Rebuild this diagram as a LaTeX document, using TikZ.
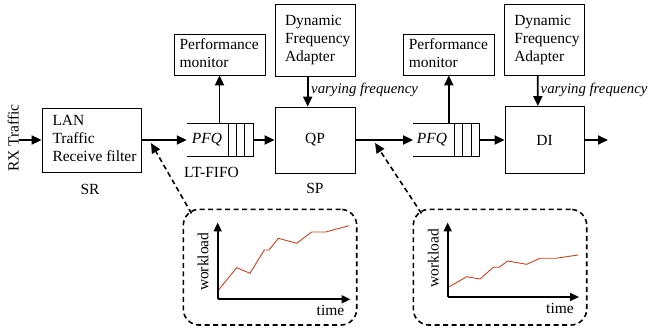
\documentclass[tikz,border=0pt]{standalone}
\usepackage{fontspec}
\setmainfont{Liberation Serif}
\usetikzlibrary{arrows.meta}
\definecolor{wlcolor}{RGB}{210,65,25}
% left-aligned lines in a box of fixed width (may overhang to the right)
\newcommand{\leftlines}[2]{\makebox[#1][l]{\begin{tabular}{@{}l@{}}#2\end{tabular}}}
\begin{document}
\begin{tikzpicture}[x=1pt,y=-1pt,
  font=\fontsize{15.5}{18}\selectfont,
  blk/.style={draw,line width=0.8pt,inner ysep=0pt},
  flow/.style={line width=1.8pt,-{Triangle[length=10pt,width=9pt]}},
  pointer/.style={line width=1.6pt,dash pattern=on 5pt off 3.5pt,-{Triangle[length=10pt,width=9pt]}},
  bubble/.style={draw,line width=1.6pt,dash pattern=on 5pt off 3.5pt,rounded corners=16pt,
                 minimum width=173.4pt,minimum height=115.7pt},
  axis/.style={line width=1.8pt,-{Triangle[length=9pt,width=8pt]}},
  wline/.style={wlcolor,line width=0.9pt},
  fifo/.style={minimum width=66pt,minimum height=32pt,inner sep=0pt},
  qline/.style={line width=0.8pt},
  vary/.style={anchor=west,inner sep=0pt,font=\fontsize{14.8}{18}\selectfont\itshape}
]
\useasboundingbox (0,0) rectangle (649,328);

% ---------- input stage ----------
\node[rotate=90,inner sep=0pt] (rx) at (13.3,138) {RX Traffic};
\node[blk,minimum width=99pt,minimum height=64pt,inner xsep=10.5pt]
  (sr) at (91.5,140) {\leftlines{78pt}{LAN\\Traffic\\Receive filter}};
\node (srlbl) at (90,189) {SR};
\draw[flow] (rx.south |- sr.west) -- (sr.west);

% ---------- first LT-FIFO ----------
\node[fifo] (fifoA) at (220,140) {};
\draw[qline] (fifoA.north west) -- (fifoA.north east) -- (fifoA.south east) -- (fifoA.south west);
\foreach \d in {8.33,16.67,25}
  \draw[qline] ([xshift=-\d pt]fifoA.north east) -- ([xshift=-\d pt]fifoA.south east);
\node (pfqA) at (207,140) {\itshape PFQ};
\node (ltlbl) at (211.5,172) {LT-FIFO};
\draw[flow] (sr.east) -- (fifoA.west);

\node[blk,minimum width=91pt,minimum height=41pt,inner xsep=5.5pt]
  (perfA) at (219.5,54.5) {\leftlines{80pt}{Performance\\monitor}};
\draw[flow] (perfA.south |- fifoA.north) -- (perfA.south);

% ---------- SP ----------
\node[blk,minimum width=80pt,minimum height=72pt,inner xsep=10pt]
  (dfaA) at (315,40) {\leftlines{60pt}{Dynamic\\Frequency\\Adapter}};
\node[blk,minimum width=80pt,minimum height=66pt] (qp) at (315,140) {QP};
\node (splbl) at (315,188) {SP};
\draw[flow] (fifoA.east) -- (qp.west);
\draw[flow] ([xshift=-7.3pt]dfaA.south) -- ([xshift=-7.3pt]qp.north);
\node[vary] (vfA) at (311,90) {varying frequency};

% ---------- second FIFO ----------
\node[fifo] (fifoB) at (446.3,140) {};
\draw[qline] (fifoB.north west) -- (fifoB.north east) -- (fifoB.south east) -- (fifoB.south west);
\foreach \d in {8.33,16.67,25}
  \draw[qline] ([xshift=-\d pt]fifoB.north east) -- ([xshift=-\d pt]fifoB.south east);
\node (pfqB) at (432,140) {\itshape PFQ};
\draw[flow] (qp.east) -- (fifoB.west);

\node[blk,minimum width=91pt,minimum height=41pt,inner xsep=5.5pt]
  (perfB) at (448.8,54.5) {\leftlines{80pt}{Performance\\monitor}};
\draw[flow] (perfB.south |- fifoB.north) -- (perfB.south);

% ---------- DI ----------
\node[blk,minimum width=80pt,minimum height=71pt,inner xsep=10pt]
  (dfaB) at (544.3,39.5) {\leftlines{60pt}{Dynamic\\Frequency\\Adapter}};
\node[blk,minimum width=79pt,minimum height=67pt] (di) at (544.5,140) {DI};
\draw[flow] (fifoB.east) -- (di.west);
\draw[flow] ([xshift=-6.6pt]dfaB.south) -- ([xshift=-6.6pt]di.north);
\node[vary] (vfB) at (540.5,90) {varying frequency};
\coordinate (out) at (608,140);
\draw[flow] (di.east) -- (out);

% ---------- workload call-outs ----------
\node[bubble] (callA) at (270,267.2) {};
\node[bubble] (callB) at (500,267.2) {};
\coordinate (fromA) at (191.5,213.5);
\coordinate (toA) at (151,143);
\coordinate (fromB) at (421.5,213.5);
\coordinate (toB) at (375,143);
\draw[pointer] (fromA) -- (toA);
\draw[pointer] (fromB) -- (toB);

% plot in the first call-out
\coordinate (oA) at (217.7,299.3);
\coordinate (yA) at (217.7,222.5);
\coordinate (xA) at (350.5,299.3);
\draw[wline] (217.7,291) -- (236.7,267.7) -- (250,273.3) -- (264.3,250) -- (269,250)
  -- (278.3,238.3) -- (296.7,243.3) -- (311.7,232) -- (325.7,232) -- (349,225.7);
\draw[axis] (oA) -- (yA);
\draw[axis] (oA) -- (xA);
\node[rotate=90] (wlA) at (203,261.7) {workload};
\node (tA) at (330.5,310.7) {time};

% plot in the second call-out
\coordinate (oB) at (447.7,297);
\coordinate (yB) at (447.7,222.5);
\coordinate (xB) at (579,297);
\draw[wline] (447.7,287.7) -- (466.7,276.7) -- (480,279) -- (493.3,267.3) -- (499,267.3)
  -- (507.7,261) -- (526.7,264.3) -- (540,258.3) -- (555.7,258.3) -- (578.3,255);
\draw[axis] (oB) -- (yB);
\draw[axis] (oB) -- (xB);
\node[rotate=90] (wlB) at (433.3,258) {workload};
\node (tB) at (560,308.3) {time};
\end{tikzpicture}
\end{document}
